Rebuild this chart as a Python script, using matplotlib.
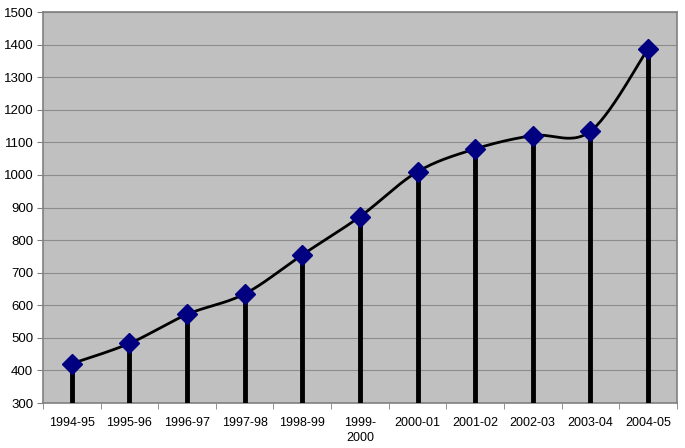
import matplotlib
matplotlib.use("Agg")
import matplotlib.pyplot as plt
import numpy as np

categories = ["1994-95", "1995-96", "1996-97", "1997-98", "1998-99", "1999-\n2000",
              "2000-01", "2001-02", "2002-03", "2003-04", "2004-05"]
values = [421, 483, 572, 635, 755, 872, 1010, 1080, 1121, 1134, 1387]
yticks = list(range(300, 1501, 100))

plt.rcParams['font.family'] = ['Liberation Sans', 'DejaVu Sans']

fig = plt.figure(figsize=(6.85, 4.48), dpi=100)
ax = fig.add_axes([0.0628, 0.1004, 0.9252, 0.8726])
ax.set_facecolor("#C0C0C0")

x = np.arange(len(values))
y = np.array(values, dtype=float)

# Excel-like smoothed line (Catmull-Rom style Bezier)
xs, ys = [], []
n = len(x)
for i in range(n - 1):
    p0 = np.array([x[max(i - 1, 0)], y[max(i - 1, 0)]])
    p1 = np.array([x[i], y[i]])
    p2 = np.array([x[i + 1], y[i + 1]])
    p3 = np.array([x[min(i + 2, n - 1)], y[min(i + 2, n - 1)]])
    c1 = p1 + (p2 - p0) / 6.0
    c2 = p2 - (p3 - p1) / 6.0
    t = np.linspace(0, 1, 30)[:, None]
    pts = (1 - t) ** 3 * p1 + 3 * (1 - t) ** 2 * t * c1 + 3 * (1 - t) * t ** 2 * c2 + t ** 3 * p2
    xs.extend(pts[:, 0]); ys.extend(pts[:, 1])

ax.vlines(x, 300, y, color="black", linewidth=3.5, zorder=3)
ax.plot(xs, ys, color="black", linewidth=2, zorder=4)
ax.plot(x, y, linestyle="none", marker="D", markersize=10,
        markerfacecolor="#000080", markeredgecolor="#000080", zorder=5)

ax.set_xlim(-0.5, n - 0.5)
ax.set_ylim(300, 1500)
ax.set_yticks(yticks)
ax.set_yticklabels([str(v) for v in yticks], fontsize=9.5)
ax.yaxis.grid(True, color="#8c8c8c", linewidth=0.8)
ax.set_axisbelow(True)

ax.set_xticks(x)
ax.set_xticklabels(categories, fontsize=9, va="top", linespacing=1.3)
ax.set_xticks(np.arange(-0.5, n, 1.0), minor=True)
ax.tick_params(axis="x", which="major", length=0, pad=10)
ax.tick_params(axis="x", which="minor", length=4, color="#808080", direction="out")
ax.tick_params(axis="y", length=4, color="#808080", direction="out", pad=3)

for s in ax.spines.values():
    s.set_color("#808080")
    s.set_linewidth(1.2)

fig.savefig("out.png", dpi=100, facecolor="white")
